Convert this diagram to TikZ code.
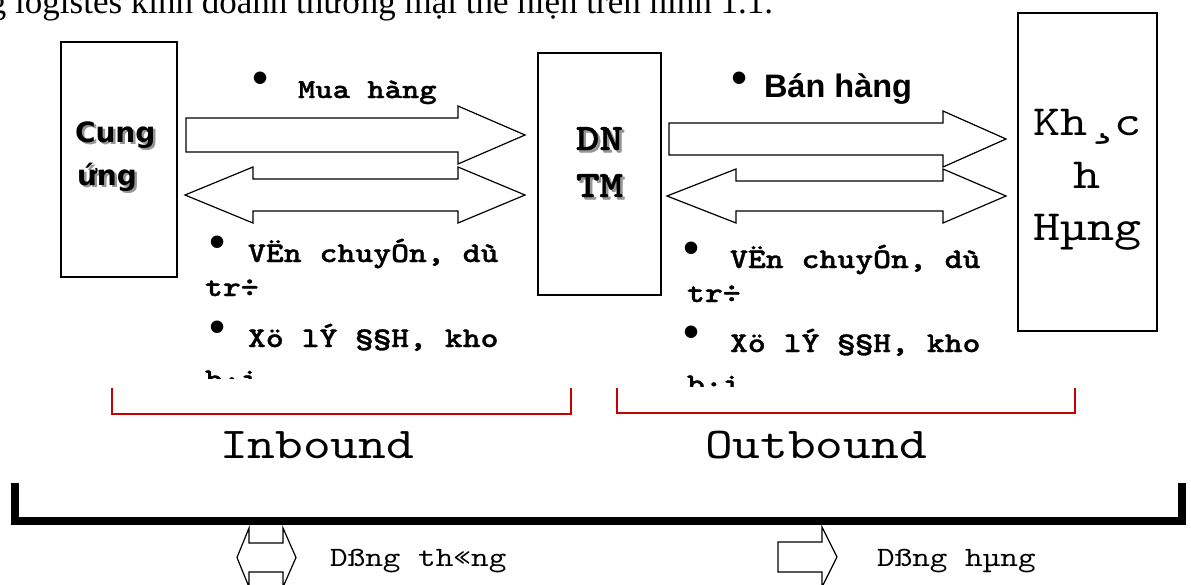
\documentclass[tikz,border=0pt]{standalone}
\usepackage{fontspec}
\setmainfont{Liberation Serif}
\newfontfamily\courfont{lmmono10-regular.otf}[FakeStretch=1.2, BoldFont=lmmonolt10-bold.otf, BoldFeatures={FakeBold=1.2}]
\newfontfamily\arialfont{Liberation Sans}
\newfontfamily\widesans{DejaVu Sans}
\definecolor{bracketred}{RGB}{200,0,0}
\definecolor{shadowgray}{RGB}{150,150,150}
\begin{document}
\begin{tikzpicture}[x=1pt,y=-1pt,
  every node/.style={inner sep=0pt, outer sep=0pt},
  entity/.style={draw, line width=1.4pt, anchor=north west},
  blockarrow/.style={draw, fill=white, line width=1.2pt, line join=miter},
  bullet/.style={font=\arialfont\fontsize{46}{50}\selectfont, anchor=center},
  flowlabel/.style={font=\courfont\bfseries\fontsize{28.4}{32}\selectfont, anchor=base west},
  sidetext/.style={font=\widesans\bfseries\fontsize{28}{32}\selectfont, anchor=base west},
  firmtext/.style={font=\courfont\bfseries\fontsize{37.3}{42}\selectfont, anchor=base},
  custtext/.style={font=\courfont\fontsize{43}{48}\selectfont, anchor=base},
  phase/.style={font=\courfont\fontsize{44}{48}\selectfont, anchor=base west},
  legend/.style={font=\courfont\fontsize{28}{32}\selectfont, anchor=base west},
  phasebracket/.style={draw=bracketred, line width=1.5pt},
  mainbracket/.style={draw=black, line width=8pt, line join=miter}
]
\useasboundingbox (0,0) rectangle (1191,584);
\clip (0,0) rectangle (1191,584);

% running text line above the figure
\node[anchor=base west, font=\fontsize{35}{42}\selectfont] (hdr) at (-11,13)
  {g logistes kinh doanh thương mại thể hiện trên hình 1.1.};

% the three parties
\node[entity, minimum width=116pt, minimum height=235pt] (sup) at (61,42) {};
\node[entity, minimum width=123pt, minimum height=242pt] (firm) at (538,53) {};
\node[entity, minimum width=139pt, minimum height=318pt] (cust) at (1018,13) {};

% supplier label with shadow
\node[sidetext, text=shadowgray] (sup1s) at (77.5,144.5) {Cung};
\node[sidetext] (sup1) at (75,142) {Cung};
\node[sidetext, text=shadowgray] (sup2s) at (79.5,187.5) {ứng};
\node[sidetext] (sup2) at (77,185) {ứng};

% firm label with shadow
\node[firmtext, text=shadowgray] (dns) at (602,152.5) {DN};
\node[firmtext] (dn) at (599.5,150) {DN};
\node[firmtext, text=shadowgray] (tms) at (602,199.5) {TM};
\node[firmtext] (tm) at (599.5,197) {TM};

% customer label
\node[custtext] (k1) at (1087.5,135) {Kh¸c};
\node[custtext] (k2) at (1087.5,188) {h};
\node[custtext] (k3) at (1087.5,240) {Hµng};

% inbound flows
\draw[blockarrow] (186,118) -- (458,118) -- (458,106) -- (525,135)
  -- (458,164) -- (458,152) -- (186,152) -- cycle;
\draw[blockarrow] (185,195) -- (253,167) -- (253,179) -- (458,179) -- (458,167)
  -- (525,195) -- (458,223) -- (458,211) -- (253,211) -- (253,223) -- cycle;

% outbound flows
\draw[blockarrow] (669,123) -- (943,123) -- (943,111) -- (1006,139)
  -- (943,167) -- (943,155) -- (669,155) -- cycle;
\draw[blockarrow] (667,196) -- (736,169) -- (736,181) -- (943,181) -- (943,169)
  -- (1006,196) -- (943,223) -- (943,211) -- (736,211) -- (736,223) -- cycle;

% flow captions
\node[bullet] (b1) at (261,83) {•};
\node[font=\courfont\bfseries\fontsize{27.5}{32}\selectfont, anchor=base west] (buy) at (298,98) {Mua hàng};
\node[bullet] (b2) at (740,83) {•};
\node[font=\arialfont\bfseries\fontsize{32.5}{36}\selectfont, anchor=base west] (sell) at (764,97) {Bán hàng};

% inbound activities
\begin{scope}
  \clip (150,225) rectangle (530,378);
  \node[bullet] (b3) at (218,247) {•};
  \node[flowlabel] (in1) at (248,262) {VËn chuyÓn, dù};
  \node[flowlabel] (in2) at (205,296) {tr÷};
  \node[bullet] (b4) at (218,332) {•};
  \node[flowlabel] (in3) at (248,347) {Xö lÝ §§H, kho};
  \node[flowlabel] (in4) at (205,388) {b·i};
\end{scope}

% outbound activities
\begin{scope}
  \clip (665,230) rectangle (1012,386);
  \node[bullet] (b5) at (692,253) {•};
  \node[flowlabel] (out1) at (730,268) {VËn chuyÓn, dù};
  \node[flowlabel] (out2) at (687,302) {tr÷};
  \node[bullet] (b6) at (692,337) {•};
  \node[flowlabel] (out3) at (730,352) {Xö lÝ §§H, kho};
  \node[flowlabel] (out4) at (687,393) {b·i};
\end{scope}

% phase brackets
\draw[phasebracket] (112,388) -- (112,414) -- (571,414) -- (571,388);
\draw[phasebracket] (617,388) -- (617,413) -- (1075,413) -- (1075,388);
\node[phase] (inb) at (220,458) {Inbound};
\node[phase] (outb) at (705,458) {Outbound};

% overall bracket
\draw[mainbracket] (15,483) -- (15,521) -- (1182,521) -- (1182,483);

% legend
\draw[blockarrow] (237,557.5) -- (249,528) -- (249,543) -- (283,543) -- (283,528)
  -- (296,557.5) -- (283,587) -- (283,572) -- (249,572) -- (249,587) -- cycle;
\node[legend] (lg1) at (330,566) {Dßng th«ng};
\draw[blockarrow] (778,542) -- (822,542) -- (822,527) -- (837,557)
  -- (822,587) -- (822,572) -- (778,572) -- cycle;
\node[legend] (lg2) at (877,566) {Dßng hµng};
\end{tikzpicture}
\end{document}
